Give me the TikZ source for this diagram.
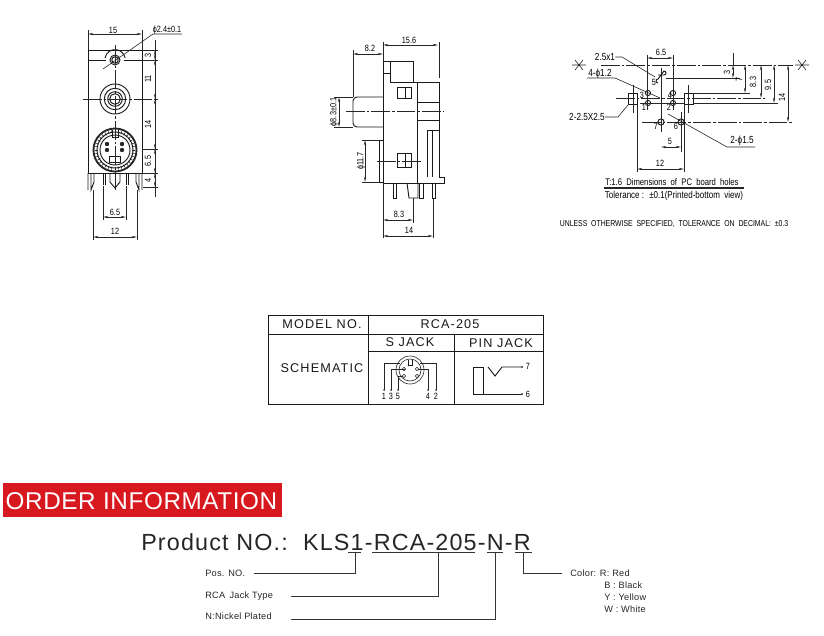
\documentclass[tikz,border=0pt]{standalone}
\usepackage{fontspec}
\setmainfont{Liberation Sans}
\newfontfamily\cadfont[FakeStretch=0.8]{Liberation Sans}
\usetikzlibrary{arrows.meta}
\definecolor{titlered}{HTML}{D7181F}
\tikzset{
  part/.style={line width=0.7pt,black!90},
  fine/.style={line width=0.45pt,black!85},
  centre/.style={line width=0.45pt,black!85,dash pattern=on 14pt off 1.5pt on 2pt off 1.5pt},
  dimline/.style={line width=0.45pt,black!85,{Stealth[length=4pt,width=1.6pt]}-{Stealth[length=4pt,width=1.6pt]}},
  cad/.style={inner sep=0pt,font=\cadfont\fontsize{6.8}{7}\selectfont,text=black},
  cadlabel/.style={inner sep=0pt,font=\cadfont\fontsize{7.7}{9}\selectfont,text=black},
  cadnote/.style={inner sep=0pt,font=\cadfont\fontsize{7.2}{8}\selectfont,text=black},
  tabtext/.style={inner sep=0pt,font=\fontsize{9.5}{11}\addfontfeature{LetterSpace=9}\selectfont,text=black!90},
  ordertext/.style={inner sep=0pt,anchor=west,font=\fontsize{6.9}{8}\addfontfeature{LetterSpace=3}\selectfont,text=black!85},
  leader/.style={line width=0.6pt,black!80},
}
% horizontal dimension: x1, x2, y, label x, label y, text
\newcommand{\dimh}[6]{%
  \draw[dimline] (#1,#3) -- (#2,#3);
  \node[cad] at (#4,#5) {#6};
}
% vertical dimension: x, y1, y2, label x, label y, text
\newcommand{\dimv}[6]{%
  \draw[dimline] (#1,#2) -- (#1,#3);
  \node[cad,rotate=90] at (#4,#5) {#6};
}
\begin{document}
\begin{tikzpicture}[x=0.75pt,y=-0.75pt]
\useasboundingbox (0,0) rectangle (824,635);

% front view
\draw[part] (88,50) rectangle (142,173);
\draw[part] (88,60) -- (106,60) (124,60) -- (142,60);
\draw[part] (115,60) circle[radius=5] (115,60) circle[radius=3.2];
\draw[part] (105,58) arc (190:350:10.2);
\foreach \r in {15,10.7,7.3,5.3} {
  \draw[part] (115,99) circle[radius=\r];
}
\draw[line width=1.4pt,black!85] (115,150) circle[radius=21.5];
\foreach \i in {1,2,...,36} {
  \draw[fine,rotate around={(\i-1)*10:(115,150)}] (115,130) -- (115,133);
}
\draw[part] (115,150) circle[radius=18] (115,150) circle[radius=15];
\draw[part] (112,130) -- (112,137) -- (118,137) -- (118,130);
\draw[part] (109,156) rectangle (120,162);
\foreach \px/\py in {107/144,122/144,107/150,122/150} {
  \fill[black!85] (\px,\py) circle[radius=2.2];
}
\draw[part] (88,173) -- (88,190) (91,173) -- (91,190) -- (94,182) -- (94,173);
\draw[part] (142,173) -- (142,190) (139,173) -- (139,190) -- (136,182) -- (136,173);
\draw[part] (103,173) -- (103,185) (105,173) -- (105,185);
\draw[part] (126,173) -- (126,185) (128,173) -- (128,185);
\draw[part] (110,173) -- (110,182) -- (115,188) -- (120,182) -- (120,173);
\draw[centre] (115,45) -- (115,192);
\draw[centre] (83,99) -- (157,99);
\draw[fine] (88,30) -- (88,50) (142,30) -- (142,50);
\dimh{88}{142}{34}{113}{30}{15}
\draw[fine] (103,69) -- (153,34) -- (182,34);
\node[cad] (holedia) at (167,30) {\char"03D5 2.4±0.1};
\draw[fine] (142,50) -- (158,50) (142,60) -- (158,60) (157,99) -- (158,99)
  (142,149) -- (158,149) (142,173) -- (158,173) (143,187) -- (158,187);
\draw[fine] (155,40) -- (155,197);
\dimv{155}{50}{60}{148}{55}{3}
\dimv{155}{60}{99}{148}{79}{11}
\dimv{155}{99}{149}{148}{124}{14}
\dimv{155}{149}{173}{148}{161}{6.5}
\dimv{155}{173}{187}{148}{180}{4}
\draw[fine] (103,186) -- (103,220) (126,186) -- (126,220);
\dimh{103}{126}{217}{115}{212}{6.5}
\draw[fine] (93,190) -- (93,240) (137,190) -- (137,240);
\dimh{93}{137}{237}{115}{231}{12}

% side view
\draw[part] (383,61) -- (413,61) -- (413,82) -- (390,82) -- (390,61);
\draw[part] (383,73) -- (390,73);
\draw[part] (383,61) -- (383,183) -- (444,183) -- (444,177) -- (439,177) -- (439,82) -- (413,82);
\draw[part] (417,82) -- (417,183);
\draw[part] (417,102) -- (439,102) (417,120) -- (439,120);
\draw[part] (383,97) -- (357,97) to[out=180,in=90] (353,101) -- (353,123)
  to[out=270,in=180] (357,127) -- (383,127);
\draw[part] (397,87) rectangle (411,98) (405,87) -- (405,98);
\draw[part] (397,153) rectangle (411,167) (405,153) -- (405,167);
\draw[part] (427,177) -- (427,130) -- (439,130) (432,130) -- (432,177);
\draw[part] (383,140) -- (379,140) -- (379,182) -- (383,182);
\draw[part] (393,183) -- (393,198) -- (396,198) -- (396,183);
\draw[part] (407,183) -- (409,198) -- (418,198) -- (418,183);
\draw[part] (419,183) -- (419,198) -- (423,198) -- (423,183);
\draw[part] (432,183) -- (432,198) -- (435,198) -- (435,183);
\draw[centre] (346,111) -- (444,111);
\draw[centre] (377,161) -- (423,161);
\draw[fine] (383,42) -- (383,61) (439,42) -- (439,78);
\dimh{383}{438}{45}{409}{40}{15.6}
\draw[fine] (353,50) -- (353,97);
\dimh{353}{383}{54}{370}{48}{8.2}
\draw[fine] (334,97) -- (353,97) (334,127) -- (353,127);
\dimv{339}{97}{127}{334}{112}{\char"03D5 8.3±0.1}
\draw[fine] (362,140) -- (379,140) (362,182) -- (379,182);
\dimv{365}{140}{182}{361}{161}{\char"03D5 11.7}
\draw[fine] (383,183) -- (383,238) (413,198) -- (413,223) (433,198) -- (433,238);
\dimh{383}{413}{220}{399}{214}{8.3}
\dimh{383}{433}{236}{409}{230}{14}

% pc board holes
\draw[fine] (572,65) -- (586,65) (575,60) -- (583,70) (575,70) -- (583,60);
\draw[fine] (795,65) -- (809,65) (798,60) -- (806,70) (798,70) -- (806,60);
\draw[centre] (601,65) -- (793,65);
\draw[part] (628,93) rectangle (637,104) (684,93) rectangle (693,104);
\draw[part] (658,75) -- (664,75) arc (90:-90:2) -- (658,79) arc (270:90:2);
\foreach \hx/\hy in {648/93,673/93,648/103,673/103} {
  \draw[part] (\hx,\hy) circle[radius=2.6];
}
\foreach \hx in {661,681} {
  \draw[part] (\hx,122) circle[radius=3.1];
}
\draw[fine] (647,55) -- (647,110) (673,55) -- (673,110);
\draw[fine] (661,68) -- (661,132) (681,112) -- (681,152);
\draw[fine] (633,85) -- (633,113) (688,85) -- (688,113);
\draw[centre] (616,98) -- (765,98);
\draw[fine] (640,103) -- (684,103) (693,103) -- (778,103);
\draw[centre] (642,122) -- (793,122);
\draw[fine] (666,78) -- (740,78) (693,93) -- (750,93);
\draw[fine] (733,53) -- (733,65);
\node[cad] at (654,82) {5};
\node[cad] at (642,95) {3};
\node[cad] at (670,95) {4};
\node[cad] at (644,107) {1};
\node[cad] at (669,107) {2};
\node[cad] at (656,126) {7};
\node[cad] at (676,126) {6};
\dimh{647}{673}{58}{661}{52}{6.5}
\dimh{661}{681}{147}{670}{141}{5}
\draw[fine] (637,104) -- (637,172) (684,104) -- (684,172);
\dimh{637}{684}{169}{660}{163}{12}
\dimv{733}{65}{78}{727}{72}{3}
\dimv{745}{65}{93}{739}{79}{7}
\dimv{761}{65}{98}{753}{82}{8.3}
\dimv{774}{65}{103}{768}{85}{9.5}
\dimv{788}{65}{122}{782}{97}{14}
\node[cadlabel] (slot) at (605,57) {2.5x1};
\node[cadlabel] (holes) at (600,74) {4-\char"03D5 1.2};
\node[cadlabel] (pads) at (587,117) {2-2.5X2.5};
\node[cadlabel] (mounts) at (742,141) {2-\char"03D5 1.5};
\draw[fine] (slot.east) -- (622,57) -- (655,77);
\draw[fine] (587,78) -- (615,78) -- (660,98);
\draw[fine] (pads.east) -- (618,117) -- (628,105);
\draw[fine] (755,147) -- (727,147) -- (668,114);
\node[cadnote] (boardnote) at (672,182) {T:1.6 \ Dimensions \ of \ PC \ board \ holes};
\draw[fine] (604,187) -- (744,187) (604,188.7) -- (744,188.7);
\node[cadnote,font=\cadfont\fontsize{7.5}{9}\selectfont] (tolnote) at (674,196) {Tolerance : \ ±0.1(Printed-bottom \ view)};
\node[cadnote,font=\cadfont\fontsize{6.45}{8}\selectfont] (decimalnote) at (674,224) {UNLESS \ OTHERWISE \ SPECIFIED, \ TOLERANCE \ ON \ DECIMAL: \ ±0.3};

% table
\draw[line width=0.6pt,black!90] (268,315) rectangle (543,404);
\draw[line width=0.6pt,black!90] (268,334) -- (543,334) (368,315) -- (368,404)
  (368,351) -- (543,351) (454,334) -- (454,404);
\node[tabtext] (model) at (322,324) {MODEL NO.};
\node[tabtext] (modelname) at (450,324) {RCA-205};
\node[tabtext] (sjack) at (410,342) {S JACK};
\node[tabtext] (pinjack) at (501,343) {PIN JACK};
\node[tabtext] (schem) at (322,368) {SCHEMATIC};

% schematic, s jack
\draw[fine] (410,370) circle[radius=14] (410,370) circle[radius=11];
\draw[part] (408,360) -- (408,365) -- (412,365) -- (412,360);
\foreach \sx/\top/\ey/\lx/\num in {384/363/400/384/1,391/369/405/391/3,398/376/403/398/5,428/369/418/428/4,436/363/420/436/2} {
  \draw[fine] (\sx,390) -- (\sx,\top) -- (\ey,\top);
  \fill[black!80] (\sx,390) circle[radius=1];
  \node[cad] at (\lx,396) {\num};
}
\foreach \cx/\cy in {404/369,404/376,417/369,417/376} {
  \draw[fine] (\cx,\cy) circle[radius=1.8];
}

% schematic, pin jack
\draw[part] (483,394) -- (483,367) -- (473,367) -- (473,394) -- (522,394);
\draw[part] (488,367) -- (495,376) -- (502,367) -- (522,367);
\fill[black!80] (522,367) circle[radius=1] (522,394) circle[radius=1];
\node[cad] (seven) at (528,366) {7};
\node[cad] (six) at (528,394) {6};

% order information
\fill[titlered] (3,483) rectangle (282,517);
\node[inner sep=0pt,text=white,font=\fontsize{18.2}{20}\addfontfeature{LetterSpace=2.5}\selectfont] (title) at (141.5,501) {ORDER INFORMATION};
\node[inner sep=0pt,anchor=west,text=black!85,font=\fontsize{17.5}{20}\addfontfeature{LetterSpace=5}\selectfont] (product) at (141,542) {Product NO.:\ \ KLS1-RCA-205-N-R};
\coordinate (one) at (355,552);
\coordinate (type) at (438,552);
\coordinate (plate) at (495,552);
\coordinate (colr) at (523,552);
\draw[leader] (348,552) -- (361,552) (372,552) -- (475,552) (487,552) -- (503,552) (515,552) -- (532,552);
\node[ordertext] (posno) at (205,573) {Pos. NO.};
\node[ordertext] (jack) at (205,596) {RCA \,Jack Type};
\node[ordertext] (nickel) at (205,616) {N:Nickel Plated};
\node[ordertext] (red) at (570,573) {Color: R: Red};
\node[ordertext] (black) at (604,585) {B : Black};
\node[ordertext] (yellow) at (604,597) {Y : Yellow};
\node[ordertext] (white) at (604,609) {W : White};
\coordinate (posend) at (254,573);
\coordinate (jackend) at (291,596);
\coordinate (nickelend) at (291,619);
\coordinate (colorend) at (562,573);
\draw[leader] (posend) -| (one);
\draw[leader] (jackend) -| (type);
\draw[leader] (nickelend) -| (plate);
\draw[leader] (colorend) -| (colr);
\end{tikzpicture}
\end{document}
